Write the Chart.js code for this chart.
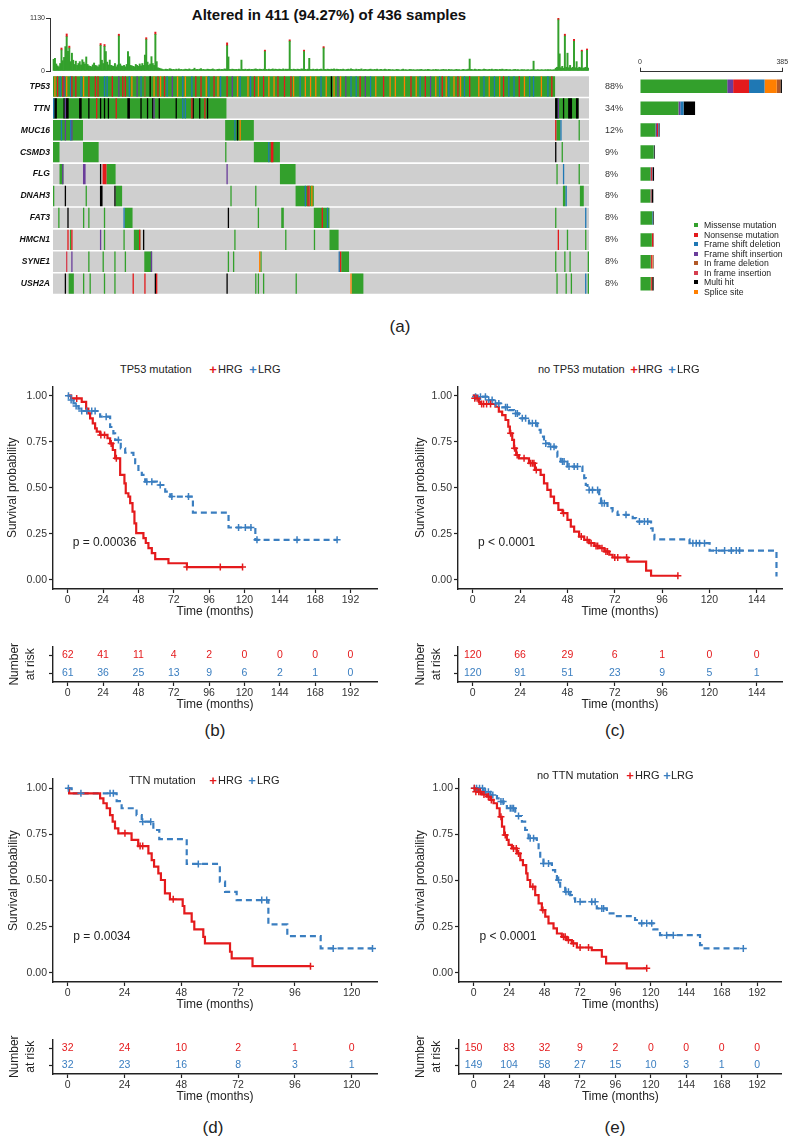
<!DOCTYPE html>
<html>
<head>
<meta charset="utf-8">
<title>Oncoplot and survival by risk group</title>
<script src="https://cdn.jsdelivr.net/npm/chart.js@4.4.1/dist/chart.umd.min.js"></script>
<style>
  html, body { margin: 0; padding: 0; background: #fff; }
  body { position: relative; width: 800px; height: 1144px; overflow: hidden;
         font-family: Arial, "Liberation Sans", Helvetica, sans-serif; color: #222; }
  canvas { position: absolute; }
  .t { position: absolute; white-space: nowrap; line-height: 1; transform: translateY(-50%); }
  .c { transform: translate(-50%, -50%); }
  .key { position: absolute; width: 4px; height: 4px; transform: translate(-50%, -50%); }
  .km { font-size: 11px; color: #222; }
  .plus { font-size: 13px; font-weight: bold; }
</style>
</head>
<body>

<div class="t c" style="left:329px;top:14px;font-size:15px;font-weight:bold;color:#111">Altered in 411 (94.27%) of 436 samples</div>

<canvas id="tmbChart" width="595" height="67" style="left:0;top:10px"></canvas>
<canvas id="oncoChart" width="630" height="230" style="left:0;top:70px"></canvas>
<canvas id="geneBarChart" width="200" height="250" style="left:600px;top:50px"></canvas>
<div id="mutLegend"></div>

<div class="t c" style="left:400px;top:326px;font-size:17px">(a)</div>

<!-- (b) -->
<div class="t km" style="left:120px;top:369px">TP53 mutation</div>
<div class="t c km plus" style="left:213px;top:369px;color:#E41A1C">+</div>
<div class="t km" style="left:218px;top:369px">HRG</div>
<div class="t c km plus" style="left:253px;top:369px;color:#3A7EC0">+</div>
<div class="t km" style="left:258px;top:369px">LRG</div>
<canvas id="kmB" width="395" height="243" style="left:0;top:376px"></canvas>
<canvas id="riskB" width="395" height="76" style="left:0;top:636px"></canvas>
<div class="t c" style="left:215px;top:730px;font-size:17px">(b)</div>

<!-- (c) -->
<div class="t km" style="left:538px;top:369px">no TP53 mutation</div>
<div class="t c km plus" style="left:634px;top:369px;color:#E41A1C">+</div>
<div class="t km" style="left:638px;top:369px">HRG</div>
<div class="t c km plus" style="left:672px;top:369px;color:#3A7EC0">+</div>
<div class="t km" style="left:677px;top:369px">LRG</div>
<canvas id="kmC" width="395" height="243" style="left:400px;top:376px"></canvas>
<canvas id="riskC" width="395" height="76" style="left:400px;top:636px"></canvas>
<div class="t c" style="left:615px;top:730px;font-size:17px">(c)</div>

<!-- (d) -->
<canvas id="kmD" width="395" height="243" style="left:0;top:769px"></canvas>
<div class="t km" style="left:129px;top:780px">TTN mutation</div>
<div class="t c km plus" style="left:213px;top:780px;color:#E41A1C">+</div>
<div class="t km" style="left:218px;top:780px">HRG</div>
<div class="t c km plus" style="left:252px;top:780px;color:#3A7EC0">+</div>
<div class="t km" style="left:257px;top:780px">LRG</div>
<canvas id="riskD" width="395" height="75" style="left:0;top:1029px"></canvas>
<div class="t c" style="left:213px;top:1127px;font-size:17px">(d)</div>

<!-- (e) -->
<canvas id="kmE" width="395" height="243" style="left:400px;top:769px"></canvas>
<div class="t km" style="left:537px;top:775px">no TTN mutation</div>
<div class="t c km plus" style="left:630px;top:775px;color:#E41A1C">+</div>
<div class="t km" style="left:635px;top:775px">HRG</div>
<div class="t c km plus" style="left:667px;top:775px;color:#3A7EC0">+</div>
<div class="t km" style="left:671px;top:775px">LRG</div>
<canvas id="riskE" width="395" height="75" style="left:400px;top:1029px"></canvas>
<div class="t c" style="left:615px;top:1127px;font-size:17px">(e)</div>

<script>
// ---------- oncoplot data ----------
const genes = ['TP53', 'TTN', 'MUC16', 'CSMD3', 'FLG', 'DNAH3', 'FAT3', 'HMCN1', 'SYNE1', 'USH2A'];
const genePct = ['88%', '34%', '12%', '9%', '8%', '8%', '8%', '8%', '8%', '8%'];
const sampleCount = 411;

const mutCodes = ['M', 'N', 'D', 'I', 'd', 'i', 'H', 'S'];
const mutLabels = ['Missense mutation', 'Nonsense mutation', 'Frame shift deletion', 'Frame shift insertion',
                   'In frame deletion', 'In frame insertion', 'Multi hit', 'Splice site'];

// mutations per sample (TMB bar on top), one value per plotted sample
const tmbCounts = [
  250,270,150,110,90,160,450,220,290,520,730,420,490,200,380,230,140,210,120,160,
  200,130,240,190,150,300,140,110,100,90,130,170,120,110,90,130,545,230,160,525,
  415,190,130,233,120,110,100,160,90,130,745,150,110,100,120,90,140,415,306,120,
  110,100,90,140,120,100,150,110,160,120,340,670,190,120,150,306,160,120,780,200,
  70,60,50,40,30,30,40,35,30,50,40,30,35,25,40,30,45,30,35,25,
  30,40,35,30,45,30,25,35,60,30,35,30,40,50,30,35,25,30,40,35,
  30,35,45,30,25,30,35,40,30,35,30,45,40,540,300,35,30,40,35,30,
  35,30,40,30,233,35,30,40,30,35,40,30,35,30,40,45,35,30,40,35,
  30,40,415,35,30,40,30,35,45,30,40,35,30,40,35,30,45,30,40,35,
  40,635,35,30,40,35,30,40,35,30,45,40,415,35,30,40,270,35,30,40,
  30,35,40,30,35,40,30,490,35,30,40,35,30,40,35,45,30,40,35,30,
  35,30,40,30,25,35,40,30,45,35,30,25,40,30,35,30,45,25,30,35,
  30,25,35,40,30,25,35,30,40,25,30,35,25,30,40,30,25,35,30,25,
  30,20,25,35,30,25,20,30,40,25,30,20,25,35,30,25,30,20,25,30,
  25,30,35,25,20,30,25,35,30,25,20,30,25,35,25,30,20,25,30,35,
  25,30,20,35,25,30,25,20,30,35,25,30,20,25,35,30,25,30,40,255,
  35,30,25,40,30,25,35,30,25,30,40,35,30,25,35,30,40,25,30,35,
  30,25,35,30,40,30,25,35,30,25,30,20,25,30,35,25,30,20,25,30,
  25,30,20,25,30,20,25,30,210,25,20,30,25,20,30,25,20,30,25,30,
  25,30,20,25,30,60,80,1090,365,70,100,60,745,80,380,70,120,60,80,635,
  70,200,60,80,70,415,60,70,80,440,60
];
// red (nonsense) caps on the tallest bars: [sample, count]
const tmbRedTips = [[6,40],[10,60],[12,40],[36,40],[39,40],[50,40],[71,40],[78,50],[133,60],[162,30],
                    [181,30],[192,30],[207,30],[387,40],[392,40],[399,40],[405,30],[409,30]];

// per gene: [firstSample, endSample, code]
const tp53Runs = [[0,385,'M'],
  [1,2,'S'],[3,4,'N'],[5,6,'D'],[7,8,'N'],[8,9,'I'],[10,11,'S'],[13,14,'D'],[14,15,'N'],[17,18,'N'],[21,22,'D'],
  [23,24,'S'],[27,28,'N'],[32,33,'N'],[34,35,'N'],[39,40,'D'],[41,42,'D'],[45,46,'N'],[50,51,'I'],[53,54,'N'],
  [55,56,'N'],[58,59,'D'],[60,61,'S'],[64,65,'I'],[67,68,'D'],[70,71,'d'],[74,75,'H'],[77,78,'S'],[80,81,'N'],
  [82,83,'S'],[85,86,'N'],[87,88,'D'],[91,92,'I'],[95,96,'S'],[99,100,'D'],[101,102,'S'],[106,107,'D'],
  [109,110,'N'],[113,114,'N'],[117,118,'S'],[119,120,'D'],[123,124,'N'],[126,127,'S'],[128,129,'D'],
  [133,134,'N'],[137,138,'I'],[141,142,'S'],[143,144,'D'],[149,150,'S'],[151,152,'D'],[154,155,'N'],
  [157,158,'S'],[161,162,'N'],[165,166,'S'],[169,170,'S'],[172,173,'N'],[177,178,'N'],[182,183,'N'],
  [184,185,'S'],[189,190,'D'],[193,194,'S'],[197,198,'S'],[201,202,'S'],[205,206,'D'],[209,210,'S'],
  [213,214,'H'],[215,216,'S'],[218,219,'I'],[220,221,'S'],[224,225,'I'],[228,229,'D'],[232,233,'D'],
  [235,236,'N'],[239,240,'I'],[243,244,'D'],[247,248,'S'],[253,254,'N'],[258,259,'S'],[262,263,'S'],
  [269,270,'S'],[274,275,'N'],[278,279,'S'],[281,282,'D'],[285,286,'N'],[289,290,'I'],[293,294,'S'],
  [296,297,'D'],[298,299,'N'],[301,302,'S'],[303,304,'D'],[307,308,'S'],[310,311,'N'],[312,313,'S'],
  [315,316,'D'],[319,320,'N'],[326,327,'S'],[330,331,'D'],[334,335,'S'],[338,339,'D'],[342,343,'S'],
  [345,346,'N'],[349,350,'D'],[353,354,'D'],[357,358,'N'],[361,362,'S'],[365,366,'D'],[368,369,'D'],
  [374,375,'S'],[379,380,'D'],[382,383,'N']];
const ttnRuns = [[0,133,'M'],[0,1,'D'],[1,3,'H'],[8,9,'H'],[9,10,'I'],[10,12,'H'],[20,22,'H'],[27,28,'H'],
  [33,34,'N'],[36,37,'H'],[39,40,'H'],[42,43,'H'],[48,49,'N'],[57,59,'H'],[67,68,'H'],[72,73,'H'],[76,77,'H'],
  [77,78,'I'],[81,82,'H'],[94,95,'H'],[99,100,'D'],[101,102,'D'],[106,107,'N'],[107,108,'H'],[112,113,'H'],
  [116,117,'N'],[118,119,'H'],[385,403,'M'],[385,387,'H'],[387,388,'I'],[391,392,'H'],[395,398,'H'],[401,403,'H']];
const muc16Runs = [[0,23,'M'],[6,7,'D'],[9,10,'I'],[13,14,'D'],[14,15,'I'],[132,154,'M'],[139,140,'D'],
  [141,142,'H'],[143,144,'S'],[385,386,'N'],[386,389,'M'],[389,390,'D'],[403,404,'M']];
const csmd3Runs = [[0,5,'M'],[23,35,'M'],[132,133,'M'],[154,174,'M'],[165,166,'D'],[167,169,'N'],
  [385,386,'H'],[390,391,'M']];
const flgRuns = [[5,8,'M'],[7,8,'I'],[23,25,'I'],[36,37,'H'],[38,41,'N'],[41,48,'M'],[133,134,'I'],
  [174,186,'M'],[386,387,'M'],[391,392,'D'],[403,404,'M']];
const dnah3Runs = [[0,1,'M'],[9,10,'H'],[25,26,'M'],[36,38,'H'],[47,48,'H'],[48,53,'M'],[136,137,'M'],
  [155,156,'M'],[186,200,'M'],[193,194,'D'],[195,196,'N'],[196,197,'i'],[198,199,'S'],[391,393,'M'],
  [393,394,'D'],[404,407,'M']];
const fat3Runs = [[4,5,'M'],[11,12,'H'],[23,24,'M'],[27,28,'M'],[39,40,'M'],[54,55,'D'],[55,61,'M'],
  [134,135,'H'],[157,158,'M'],[175,177,'M'],[200,212,'M'],[206,207,'N'],[210,211,'D'],[385,386,'M'],[408,409,'D']];
const hmcn1Runs = [[11,12,'N'],[13,14,'M'],[14,15,'N'],[36,37,'I'],[39,40,'M'],[54,55,'M'],[62,67,'M'],
  [66,67,'N'],[69,70,'H'],[139,140,'M'],[178,179,'M'],[200,201,'M'],[212,219,'M'],[387,388,'N'],
  [394,395,'M'],[408,409,'M']];
const syne1Runs = [[10,11,'i'],[14,15,'I'],[27,28,'M'],[38,39,'M'],[47,48,'M'],[55,56,'M'],[70,76,'M'],
  [75,76,'I'],[134,135,'M'],[138,139,'M'],[158,159,'S'],[159,160,'M'],[219,220,'D'],[220,221,'N'],
  [221,227,'M'],[385,386,'M'],[392,393,'M'],[396,397,'M'],[410,411,'M']];
const ush2aRuns = [[9,10,'H'],[12,16,'M'],[23,24,'M'],[28,29,'M'],[39,40,'M'],[47,48,'M'],[61,62,'N'],
  [70,71,'N'],[78,79,'H'],[79,80,'N'],[133,134,'H'],[155,156,'M'],[157,158,'M'],[161,162,'M'],[186,187,'M'],
  [228,229,'S'],[229,238,'M'],[386,387,'M'],[393,394,'M'],[397,398,'M'],[408,409,'D'],[410,411,'M']];

// samples per gene and variant class (right-hand bar)
const missenseCounts = [236, 104, 42, 37, 28, 28, 33, 32, 29, 29];
const fsInsCounts    = [16, 5, 4, 0, 2, 1, 0, 0, 1, 0];
const nonsenseCounts = [43, 0, 3, 0, 3, 0, 0, 4, 3, 3];
const ifInsCounts    = [0, 0, 0, 0, 0, 2, 0, 0, 0, 0];
const fsDelCounts    = [42, 9, 2, 1, 1, 0, 2, 0, 0, 0];
const spliceCounts   = [33, 0, 0, 0, 0, 0, 0, 0, 1, 1];
const ifDelCounts    = [10, 0, 0, 0, 0, 0, 0, 0, 2, 0];
const multiHitCounts = [4, 31, 2, 2, 4, 5, 2, 1, 1, 4];
const geneBarMax = 385;

// ---------- survival data: [months, survival probability] ----------
const survTicks = [0, 0.25, 0.5, 0.75, 1];

const tp53HrgSurv = [[0,1],[2.3,0.985],[9.5,0.967],[12.5,0.93],[14,0.904],[15.2,0.877],[17,0.85],[18.6,0.823],
  [19.7,0.805],[22,0.787],[27,0.769],[28.8,0.741],[30.6,0.705],[32.2,0.66],[35.6,0.57],[38.5,0.524],[39.4,0.47],
  [41.2,0.452],[42.4,0.416],[44,0.37],[45.3,0.307],[46.5,0.253],[51.4,0.226],[53,0.2],[54.8,0.172],[57.1,0.145],
  [59.4,0.112],[68.4,0.09],[80.9,0.069],[118.7,0.069]];
const tp53HrgCens = [[6.1,0.985],[22.5,0.787],[25,0.787],[29.5,0.741],[33,0.66],[80.9,0.069],[103.6,0.069],[118.7,0.069]];
const tp53LrgSurv = [[0,1],[2.3,0.976],[3.9,0.958],[5.7,0.944],[7.3,0.93],[9.5,0.917],[22,0.886],[28.8,0.83],
  [31,0.795],[32.2,0.76],[36,0.714],[39,0.69],[44.6,0.669],[45.8,0.633],[48,0.597],[50.3,0.57],[52.6,0.533],
  [60.5,0.515],[66.2,0.479],[69.6,0.452],[85,0.365],[109.2,0.284],[127.4,0.217],[182.9,0.217]];
const tp53LrgCens = [[0.5,1],[2.3,0.976],[5.7,0.944],[9.5,0.917],[12.9,0.917],[16.3,0.917],[18.6,0.917],[26.1,0.886],
  [34.4,0.76],[53.7,0.533],[57.1,0.533],[62.8,0.515],[70.7,0.452],[82,0.452],[116,0.284],[120.6,0.284],[124.4,0.284],
  [128.5,0.217],[155.7,0.217],[182.9,0.217]];
const tp53RiskTimes = [0, 24, 48, 72, 96, 120, 144, 168, 192];
const tp53HrgRisk = [62, 41, 11, 4, 2, 0, 0, 0, 0];
const tp53LrgRisk = [61, 36, 25, 13, 9, 6, 2, 1, 0];

const noTp53HrgSurv = [[0,1],[1.4,0.986],[3.1,0.967],[3.9,0.955],[11.5,0.94],[13.2,0.913],[14.9,0.895],[16.6,0.868],
  [18,0.832],[18.8,0.796],[20,0.76],[20.9,0.714],[22,0.678],[23.4,0.66],[28.5,0.633],[31.5,0.597],[34.4,0.57],
  [36.1,0.524],[37.8,0.488],[39.5,0.452],[41.2,0.416],[43.4,0.38],[45.5,0.362],[48,0.325],[49.7,0.289],[51.4,0.262],
  [53.9,0.235],[56.5,0.217],[59,0.199],[61.6,0.184],[64.1,0.172],[66.7,0.154],[69.2,0.136],[70.9,0.121],[78.5,0.099],
  [87.9,0.05],[90.4,0.022],[104,0.022]];
const noTp53HrgCens = [[1,0.986],[2.2,0.986],[4.5,0.955],[5.5,0.955],[7,0.955],[9,0.955],[19.2,0.796],[21.2,0.714],
  [22.5,0.678],[26,0.66],[29.3,0.633],[30.2,0.633],[31,0.633],[32.2,0.597],[46,0.362],[55,0.235],[58,0.217],[60,0.199],
  [62.5,0.184],[63.3,0.184],[65.5,0.172],[67.5,0.154],[68.3,0.154],[72,0.121],[73.5,0.121],[78,0.121],[104,0.022]];
const noTp53LrgSurv = [[0,1],[3.1,0.995],[8.1,0.976],[11.5,0.958],[14.1,0.937],[18.3,0.922],[20.9,0.904],[23.4,0.877],
  [28.5,0.85],[32.7,0.814],[34.4,0.778],[36.1,0.741],[38.7,0.723],[42.1,0.696],[42.9,0.669],[44.6,0.642],[48,0.615],
  [55.6,0.582],[56.5,0.552],[57.3,0.515],[58.2,0.488],[64.1,0.443],[65,0.416],[68.3,0.389],[70.9,0.371],[73.4,0.353],
  [81.1,0.335],[82.8,0.316],[90.4,0.28],[91.2,0.244],[92.1,0.22],[109.9,0.199],[120.1,0.159],[154,0.018]];
const noTp53LrgCens = [[1.4,0.995],[3.9,0.995],[6.4,0.995],[8.1,0.976],[9.8,0.976],[11.5,0.958],[13.2,0.958],
  [16.6,0.937],[17.5,0.937],[21.7,0.904],[22.6,0.904],[25.1,0.877],[26.8,0.877],[30.2,0.85],[31.9,0.85],[37,0.741],
  [39.5,0.723],[41.2,0.723],[45.5,0.642],[46.3,0.642],[48.8,0.615],[51.4,0.615],[53.1,0.615],[59,0.488],[60.7,0.488],
  [63.3,0.488],[65.5,0.416],[66.7,0.416],[77.7,0.353],[84.5,0.316],[87,0.316],[88.7,0.316],[111.6,0.199],[113.3,0.199],
  [115,0.199],[117.5,0.199],[123.5,0.159],[127.7,0.159],[131.1,0.159],[133.6,0.159],[135.3,0.159]];
const noTp53RiskTimes = [0, 24, 48, 72, 96, 120, 144];
const noTp53HrgRisk = [120, 66, 29, 6, 1, 0, 0];
const noTp53LrgRisk = [120, 91, 51, 23, 9, 5, 1];

const ttnHrgSurv = [[0,1],[0.6,0.973],[13.7,0.946],[15.1,0.919],[16.5,0.892],[17.9,0.855],[19,0.819],[20,0.783],
  [21.4,0.756],[27,0.72],[29.8,0.687],[34.1,0.647],[35.5,0.611],[36.5,0.575],[38.3,0.539],[39.4,0.503],[41.1,0.43],
  [43.2,0.398],[48.6,0.362],[49.3,0.322],[52.4,0.277],[53.5,0.235],[57.3,0.195],[58,0.159],[68.6,0.114],[69.3,0.078],
  [78.1,0.036],[102.6,0.036]];
const ttnHrgCens = [[24.2,0.756],[30.6,0.687],[31.7,0.687],[44.6,0.398],[102.6,0.036]];
const ttnLrgSurv = [[0,1],[1.7,0.973],[20.7,0.931],[22.8,0.892],[29.1,0.855],[31.3,0.819],[36.2,0.774],[38.7,0.725],
  [50.3,0.59],[64.3,0.494],[66.5,0.439],[71.4,0.394],[84.8,0.262],[92.8,0.199],[106.9,0.132],[128.8,0.132]];
const ttnLrgCens = [[0.3,1],[5.6,0.973],[17.9,0.973],[19.3,0.973],[31.7,0.819],[35.1,0.819],[55.2,0.59],[82,0.394],
  [84.1,0.394],[112.2,0.132],[128.8,0.132]];
const ttnRiskTimes = [0, 24, 48, 72, 96, 120];
const ttnHrgRisk = [32, 24, 10, 2, 1, 0];
const ttnLrgRisk = [32, 23, 16, 8, 3, 1];

const noTtnHrgSurv = [[0,1],[2.3,0.982],[5.6,0.967],[9,0.955],[11.3,0.937],[13.5,0.919],[15.8,0.892],[17.6,0.846],
  [19.2,0.792],[20.7,0.747],[22.5,0.72],[23.7,0.693],[25.9,0.674],[29.3,0.647],[31.6,0.611],[33.4,0.584],[35.6,0.539],
  [36.5,0.503],[38.3,0.467],[41.7,0.421],[44,0.376],[46.2,0.34],[48.5,0.304],[50.7,0.268],[54.1,0.241],[56.4,0.213],
  [59.7,0.195],[63.1,0.177],[66.5,0.159],[69.9,0.137],[80,0.123],[86.8,0.087],[89.7,0.051],[103.7,0.024],[117.2,0.024]];
const noTtnHrgCens = [[0.5,1],[1.5,0.982],[3.5,0.982],[4.5,0.982],[7,0.967],[10,0.955],[12,0.937],[18.5,0.846],
  [21.4,0.747],[27,0.674],[28.9,0.674],[30.4,0.647],[40.1,0.467],[46.9,0.34],[60.9,0.195],[62,0.195],[64.2,0.177],
  [67.6,0.159],[72.1,0.137],[77.8,0.137],[117.2,0.024]];
const noTtnLrgSurv = [[0,1],[6.8,0.982],[11.3,0.964],[15.8,0.946],[18,0.928],[20.3,0.91],[22.5,0.892],[28.2,0.873],
  [29.3,0.85],[32.7,0.819],[34.9,0.774],[37.2,0.729],[42.8,0.702],[44,0.665],[45.1,0.62],[47.3,0.593],[53,0.557],
  [55.2,0.53],[56.4,0.503],[58.6,0.467],[62,0.439],[65.4,0.421],[66.5,0.403],[68.7,0.385],[83.4,0.349],[90.2,0.322],
  [94.7,0.307],[109.3,0.286],[111.6,0.268],[121.7,0.235],[126.2,0.204],[153.3,0.15],[154.4,0.132],[182.6,0.132]];
const noTtnLrgCens = [[0.5,1],[2,1],[4,1],[6,1],[8,0.982],[10,0.982],[13,0.964],[18.5,0.928],[20,0.928],[24.8,0.892],
  [26,0.892],[27,0.892],[30.4,0.85],[38.3,0.729],[40.6,0.729],[47.3,0.593],[50.7,0.593],[57.5,0.503],[62.5,0.439],
  [64.2,0.439],[72.1,0.385],[80,0.385],[82.3,0.385],[86.8,0.349],[88,0.349],[113.8,0.268],[117.2,0.268],[120.6,0.268],
  [130.7,0.204],[135.2,0.204],[182.6,0.132]];
const noTtnRiskTimes = [0, 24, 48, 72, 96, 120, 144, 168, 192];
const noTtnHrgRisk = [150, 83, 32, 9, 2, 0, 0, 0, 0];
const noTtnLrgRisk = [149, 104, 58, 27, 15, 10, 3, 1, 0];

// ---------- styles ----------
const RED = '#E41A1C';
const BLUE = '#3A7EC0';
const AXIS = '#222';
const FONT = 'Arial, "Liberation Sans", Helvetica, sans-serif';
const mutColors = ['#33A02C', '#E31A1C', '#1F78B4', '#6A3D9A', '#B15928', '#D53E4F', '#000000', '#FF7F00'];

Chart.defaults.font.family = FONT;
Chart.defaults.color = '#333';
Chart.defaults.animation = false;
Chart.defaults.events = [];
Chart.defaults.plugins.legend.display = false;
Chart.defaults.plugins.tooltip.enabled = false;

// draws dataset.texts[j] at the j-th point of the dataset
const pointText = {
  id: 'pointText',
  afterDatasetsDraw(chart) {
    const ctx = chart.ctx;
    chart.data.datasets.forEach((ds, i) => {
      if (!ds.texts) return;
      const meta = chart.getDatasetMeta(i);
      ctx.save();
      ctx.font = ds.textFont;
      ctx.fillStyle = ds.textColor;
      ctx.textAlign = ds.textAlign || 'center';
      ctx.textBaseline = 'middle';
      meta.data.forEach((el, j) => ctx.fillText(ds.texts[j], el.x, el.y));
      ctx.restore();
    });
  }
};
Chart.register(pointText);

const toXY = pts => pts.map(([x, y]) => ({ x, y }));

// ---------- (a) top: mutations per sample ----------
function drawTmb() {
  new Chart(document.getElementById('tmbChart'), {
    type: 'bar',
    data: {
      datasets: [
        { data: tmbCounts.map((v, i) => ({ x: i + 0.5, y: v })), backgroundColor: mutColors[0] },
        { data: tmbRedTips.map(([i, v]) => ({ x: i + 0.5, y: v })), backgroundColor: mutColors[1] }
      ]
    },
    options: {
      responsive: false,
      layout: { padding: { top: 8, right: 6, bottom: 6, left: 0 } },
      datasets: { bar: { barPercentage: 1, categoryPercentage: 1, borderWidth: 0 } },
      scales: {
        x: { type: 'linear', min: -2.3, max: sampleCount, offset: false, stacked: true, display: false },
        y: {
          type: 'linear', min: 0, max: 1130, stacked: true,
          afterFit: s => { s.width = 50; },
          afterBuildTicks: s => { s.ticks = [{ value: 0 }, { value: 1130 }]; },
          ticks: { callback: v => String(v), font: { size: 7 }, color: '#333', padding: 1 },
          grid: { drawOnChartArea: false, tickLength: 4, color: '#333' },
          border: { color: '#333', width: 1 }
        }
      }
    }
  });
}

// ---------- (a) matrix ----------
function drawOnco() {
  const geneRuns = [tp53Runs, ttnRuns, muc16Runs, csmd3Runs, flgRuns, dnah3Runs, fat3Runs, hmcn1Runs, syne1Runs, ush2aRuns];
  const sets = [{
    data: genes.map((g, gi) => ({ x: [0, sampleCount], y: gi })),
    backgroundColor: '#CFCFCF', order: 3
  }];
  mutCodes.forEach((code, k) => {
    const pts = [];
    geneRuns.forEach((runs, gi) => runs.forEach(([s, e, c]) => {
      if (c === code) pts.push({ x: [s, e], y: gi });
    }));
    sets.push({ data: pts, backgroundColor: mutColors[k], order: code === 'M' ? 2 : 1 });
  });

  // row i is centred at value i; top of area = -0.5, bottom = 9.5
  const rowAxis = (position, labels, width, gap) => ({
    type: 'linear', position, min: -0.5, max: genes.length - 0.5, reverse: true, offset: false,
    afterFit: s => { s.width = width; },
    afterBuildTicks: s => { s.ticks = labels.map((_, i) => ({ value: i })); },
    ticks: { callback: v => labels[v], padding: 0,
             font: position === 'left' ? { size: 8.6, style: 'italic', weight: 'bold' } : { size: 9 },
             color: position === 'left' ? '#111' : '#333' },
    grid: { display: false, drawTicks: true, tickLength: gap },
    border: { display: false }
  });

  new Chart(document.getElementById('oncoChart'), {
    type: 'bar',
    data: { datasets: sets },
    options: {
      indexAxis: 'y',
      responsive: false,
      layout: { padding: { top: 5.5, right: 5, bottom: 4.5, left: 0 } },
      datasets: { bar: { grouped: false, barPercentage: 1, categoryPercentage: 0.93, borderWidth: 0 } },
      scales: {
        x: { type: 'linear', min: 0, max: sampleCount, display: false },
        y: rowAxis('left', genes, 53, 3),
        y2: rowAxis('right', genePct, 36, 16)
      }
    }
  });
}

// ---------- (a) right: samples per gene ----------
function drawGeneBars() {
  const stackOrder = [
    [missenseCounts, 0], [fsInsCounts, 3], [nonsenseCounts, 1], [ifInsCounts, 5],
    [fsDelCounts, 2], [spliceCounts, 7], [ifDelCounts, 4], [multiHitCounts, 6]
  ];
  new Chart(document.getElementById('geneBarChart'), {
    type: 'bar',
    data: {
      datasets: stackOrder.map(([counts, k]) => ({
        data: counts.map((v, i) => ({ x: v, y: i })),
        backgroundColor: mutColors[k]
      }))
    },
    options: {
      indexAxis: 'y',
      responsive: false,
      layout: { padding: { top: 5.7, right: 17.7, bottom: 4.1, left: 40 } },
      datasets: { bar: { barPercentage: 1, categoryPercentage: 0.93, borderWidth: 0 } },
      scales: {
        x: {
          type: 'linear', position: 'top', min: 0, max: geneBarMax, stacked: true,
          afterFit: s => { s.height = 16; },
          afterBuildTicks: s => { s.ticks = [{ value: 0 }, { value: geneBarMax }]; },
          ticks: { callback: v => String(v), font: { size: 7 }, color: '#333', padding: 1, maxRotation: 0 },
          grid: { drawOnChartArea: false, tickLength: 4, color: '#333' },
          border: { color: '#333', width: 1 }
        },
        y: { type: 'linear', min: -0.66, max: 9.55, reverse: true, stacked: true, offset: false, display: false }
      }
    }
  });

  const box = document.getElementById('mutLegend');
  mutLabels.forEach((lab, k) => {
    const y = 225 + k * 9.5;
    const sq = document.createElement('div');
    sq.className = 'key';
    sq.style.cssText = `left:696px;top:${y}px;background:${mutColors[k]}`;
    box.appendChild(sq);
    const tx = document.createElement('div');
    tx.className = 't';
    tx.style.cssText = `left:704px;top:${y}px;font-size:8.7px;color:#222`;
    tx.textContent = lab;
    box.appendChild(tx);
  });
}

// ---------- survival panels ----------
function timeAxis(min, max, ticks) {
  return {
    type: 'linear', min, max,
    afterFit: s => { s.height = 30; },
    afterBuildTicks: s => { s.ticks = ticks.map(v => ({ value: v })); },
    ticks: { autoSkip: false, maxRotation: 0, padding: 1, font: { size: 10.5 }, color: '#333' },
    grid: { drawOnChartArea: false, tickLength: 4, color: AXIS, tickWidth: 1.2 },
    border: { color: AXIS, width: 1.4 },
    title: { display: true, text: 'Time (months)', font: { size: 12 }, color: '#222', padding: 0 }
  };
}

function drawKm(id, p) {
  const line = (pts, color, dash) => ({
    data: toXY(pts), borderColor: color, borderWidth: 2.2, borderDash: dash,
    stepped: 'before', pointRadius: 0, fill: false, tension: 0
  });
  const cens = (pts, color) => ({
    data: toXY(pts), showLine: false, pointStyle: 'cross', pointRadius: 3.5,
    borderColor: color, borderWidth: 1.5
  });
  new Chart(document.getElementById(id), {
    type: 'line',
    data: {
      datasets: [
        cens(p.hrgCens, RED),
        cens(p.lrgCens, BLUE),
        line(p.hrg, RED, []),
        line(p.lrg, BLUE, [6, 4]),
        { data: [{ x: p.pAt[0], y: p.pAt[1] }], texts: [p.pText], textAlign: 'left',
          textFont: '12px ' + FONT, textColor: '#222', showLine: false, pointRadius: 0 }
      ]
    },
    options: {
      responsive: false,
      layout: { padding: p.pad },
      scales: {
        x: timeAxis(p.xMin, p.xMax, p.ticks),
        y: {
          type: 'linear', min: -0.05, max: 1.05,
          afterFit: s => { s.width = p.yw; },
          afterBuildTicks: s => { s.ticks = survTicks.map(v => ({ value: v })); },
          ticks: { callback: v => v.toFixed(2), padding: 2, font: { size: 10.5 }, color: '#333' },
          grid: { drawOnChartArea: false, tickLength: 4, color: AXIS, tickWidth: 1.2 },
          border: { color: AXIS, width: 1.4 },
          title: { display: true, text: 'Survival probability', font: { size: 12 }, color: '#222',
                   padding: { top: p.titlePad, bottom: 0 } }
        }
      }
    }
  });
}

function drawRisk(id, p) {
  const row = (counts, level, color) => ({
    data: p.times.map(t => ({ x: t, y: level })), texts: counts.map(String),
    textFont: '10.5px ' + FONT, textColor: color, showLine: false, pointRadius: 0
  });
  new Chart(document.getElementById(id), {
    type: 'line',
    data: { datasets: [row(p.hrg, 2, RED), row(p.lrg, 1, BLUE)] },
    options: {
      responsive: false,
      layout: { padding: p.pad },
      scales: {
        x: timeAxis(p.xMin, p.xMax, p.times),
        y: {
          type: 'linear', min: 0.5, max: 2.5,
          afterFit: s => { s.width = p.yw; },
          afterBuildTicks: s => { s.ticks = [{ value: 1 }, { value: 2 }]; },
          ticks: { callback: () => '', padding: 0 },
          grid: { drawOnChartArea: false, tickLength: 4, color: AXIS, tickWidth: 1.2 },
          border: { color: AXIS, width: 1.4 },
          title: { display: true, text: ['Number', 'at risk'], font: { size: 12, lineHeight: 1.33 },
                   color: '#222', padding: { top: p.titlePad, bottom: 0 } }
        }
      }
    }
  });
}

document.addEventListener('DOMContentLoaded', () => {
  drawTmb();
  drawOnco();
  drawGeneBars();

  drawKm('kmB', { hrg: tp53HrgSurv, hrgCens: tp53HrgCens, lrg: tp53LrgSurv, lrgCens: tp53LrgCens,
    pText: 'p = 0.00036', pAt: [3.4, 0.2], xMin: -10, xMax: 210, ticks: tp53RiskTimes,
    yw: 53, titlePad: 5, pad: { top: 10.5, right: 18, bottom: 0, left: 0 } });
  drawRisk('riskB', { times: tp53RiskTimes, hrg: tp53HrgRisk, lrg: tp53LrgRisk, xMin: -10, xMax: 210,
    yw: 53, titlePad: 7, pad: { top: 10.5, right: 18, bottom: 0, left: 0 } });

  drawKm('kmC', { hrg: noTp53HrgSurv, hrgCens: noTp53HrgCens, lrg: noTp53LrgSurv, lrgCens: noTp53LrgCens,
    pText: 'p < 0.0001', pAt: [2.7, 0.2], xMin: -7.5, xMax: 156.8, ticks: noTp53RiskTimes,
    yw: 58, titlePad: 13, pad: { top: 10.5, right: 13, bottom: 0, left: 0 } });
  drawRisk('riskC', { times: noTp53RiskTimes, hrg: noTp53HrgRisk, lrg: noTp53LrgRisk, xMin: -7.5, xMax: 156.8,
    yw: 58, titlePad: 13, pad: { top: 10.5, right: 13, bottom: 0, left: 0 } });

  drawKm('kmD', { hrg: ttnHrgSurv, hrgCens: ttnHrgCens, lrg: ttnLrgSurv, lrgCens: ttnLrgCens,
    pText: 'p = 0.0034', pAt: [2.4, 0.195], xMin: -6.2, xMax: 130.7, ticks: ttnRiskTimes,
    yw: 53, titlePad: 6, pad: { top: 10.1, right: 18, bottom: 0, left: 0 } });
  drawRisk('riskD', { times: ttnRiskTimes, hrg: ttnHrgRisk, lrg: ttnLrgRisk, xMin: -6.2, xMax: 130.7,
    yw: 53, titlePad: 7, pad: { top: 10.5, right: 18, bottom: 0, left: 0 } });

  drawKm('kmE', { hrg: noTtnHrgSurv, hrgCens: noTtnHrgCens, lrg: noTtnLrgSurv, lrgCens: noTtnLrgCens,
    pText: 'p < 0.0001', pAt: [3.9, 0.195], xMin: -9.9, xMax: 208.6, ticks: noTtnRiskTimes,
    yw: 59, titlePad: 13, pad: { top: 10.1, right: 13.3, bottom: 0, left: 0 } });
  drawRisk('riskE', { times: noTtnRiskTimes, hrg: noTtnHrgRisk, lrg: noTtnLrgRisk, xMin: -9.9, xMax: 208.6,
    yw: 59, titlePad: 13, pad: { top: 10.5, right: 13.3, bottom: 0, left: 0 } });
});
</script>
</body>
</html>
